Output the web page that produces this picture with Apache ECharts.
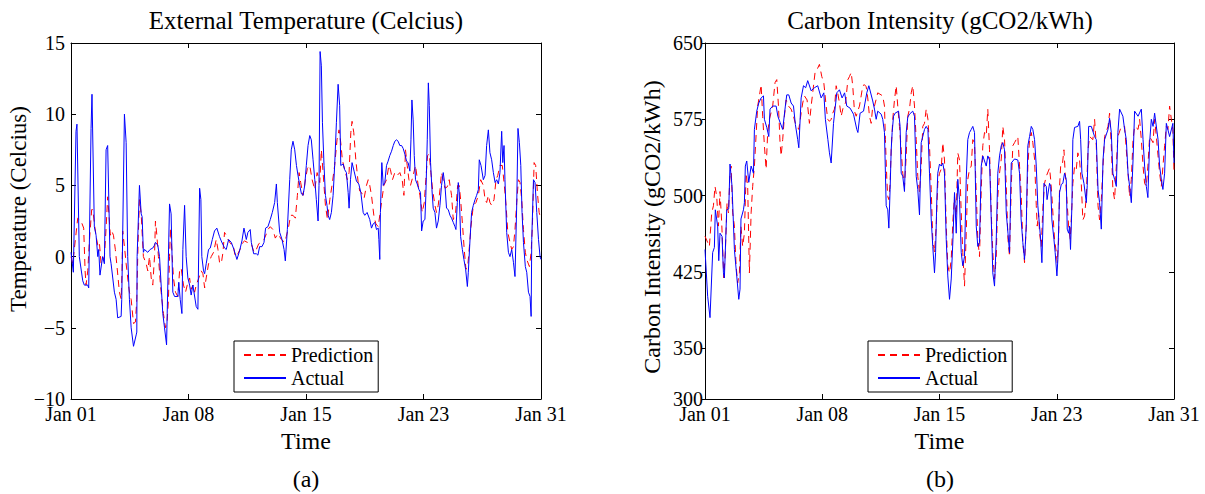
<!DOCTYPE html>
<html>
<head>
<meta charset="utf-8">
<script src="https://cdn.jsdelivr.net/npm/echarts@6/dist/echarts.min.js"></script>
<style>html,body{margin:0;padding:0;background:#fff}#c{width:1205px;height:494px}</style>
</head>
<body>
<div id="c"></div>
<script>
// ---------------- data ----------------
const xTickLabels = ['Jan 01', 'Jan 08', 'Jan 15', 'Jan 23', 'Jan 31'];
const tempTicks = [-10, -5, 0, 5, 10, 15];
const carbonTicks = [300, 350, 425, 500, 575, 650];
const seriesNames = ['Prediction', 'Actual'];
const panelTitles = ['External Temperature (Celcius)', 'Carbon Intensity (gCO2/kWh)'];
const yAxisNames = ['Temperature (Celcius)', 'Carbon Intensity (gCO2/kWh)'];
const xAxisName = 'Time';
const captions = ['(a)', '(b)'];

// [days since Jan 01, value]
const tempActual = [
[0,0.3],[0.15,-1.1],[0.32,8.8],[0.38,9.3],[0.53,0],[0.75,-1.7],[0.85,-2.0],[1.07,-2.0],[1.13,-2.2],[1.28,9.0],
[1.34,11.4],[1.49,2.1],[1.60,1.5],[1.71,0],[1.77,0.5],[1.85,-1.3],[2.02,0],[2.13,-0.5],[2.24,7.5],[2.34,7.8],
[2.49,0],[2.56,-0.5],[2.77,-2.5],[2.88,-3.0],[2.98,-4.3],[3.20,-4.2],[3.24,-3.0],[3.41,10.0],[3.52,8.0],[3.62,0],
[3.73,-3.0],[3.84,-5.0],[3.99,-6.3],[4.16,-5.5],[4.20,-5.3],[4.22,0],[4.37,5.0],[4.48,3.0],[4.54,2.8],[4.62,0.3],
[4.69,0.5],[4.90,0.3],[5.05,0.5],[5.22,0.6],[5.33,0.8],[5.39,1.0],[5.54,0.8],[5.65,0],[5.78,-2.5],[5.86,-4.0],
[5.97,-5.0],[6.10,-6.2],[6.14,-4.0],[6.29,3.7],[6.39,3.0],[6.50,-2.5],[6.61,-2.8],[6.82,-2.8],[6.88,-1.8],[6.97,-3.0],
[7.08,-4.0],[7.14,0.5],[7.25,3.6],[7.35,0],[7.46,-1.5],[7.57,-2.0],[7.67,-2.7],[7.78,-2.0],[7.99,-3.5],[8.10,-3.7],
[8.21,4.8],[8.29,4.0],[8.35,0],[8.46,-1.0],[8.53,-1.2],[8.63,-0.5],[8.78,0.5],[8.89,0.6],[9.02,1.2],[9.16,1.8],
[9.31,2.0],[9.48,1.4],[9.59,1.1],[9.80,0.6],[9.91,0.5],[10.06,1.2],[10.23,1.0],[10.40,0.5],[10.59,-0.2],[10.76,0.4],
[10.91,1.1],[11.04,2.0],[11.19,1.2],[11.29,1.7],[11.44,1.9],[11.51,1.0],[11.66,0.2],[11.83,0.2],[11.93,0.1],[12.04,0.7],
[12.19,0.7],[12.32,1.0],[12.42,2.0],[12.57,2.1],[12.72,2.6],[12.85,3.1],[13.00,3.8],[13.11,5.1],[13.17,3.8],[13.32,1.7],
[13.47,1.2],[13.60,0.5],[13.68,-0.3],[13.81,1.9],[13.96,5.4],[14.06,7.5],[14.17,8.1],[14.28,7.5],[14.39,6.4],[14.49,5.7],
[14.60,5.0],[14.71,4.4],[14.81,4.3],[14.92,5.0],[15.02,6.4],[15.13,7.8],[15.24,8.5],[15.34,8.2],[15.45,6.8],[15.56,5.4],
[15.66,4.0],[15.77,2.5],[15.83,5.0],[15.90,14.4],[15.98,13.4],[16.05,9.4],[16.15,6.4],[16.24,4.3],[16.34,3.6],[16.41,2.9],
[16.51,2.6],[16.62,3.1],[16.73,4.3],[16.83,6.4],[16.94,9.4],[17.05,12.1],[17.15,10.6],[17.22,6.4],[17.37,6.5],[17.47,6.1],
[17.58,5.9],[17.69,4.5],[17.75,3.4],[17.84,5.4],[17.94,6.6],[18.07,6.0],[18.22,5.3],[18.37,5.1],[18.50,4.5],[18.65,3.1],
[18.75,2.9],[18.90,3.1],[19.07,2.6],[19.18,2.0],[19.29,2.3],[19.39,2.4],[19.50,1.9],[19.61,2.0],[19.65,1.2],[19.71,-0.2],
[19.75,3.1],[19.84,6.6],[19.93,5.0],[20.03,5.2],[20.14,6.4],[20.24,6.7],[20.35,7.1],[20.46,7.4],[20.57,7.8],[20.67,8.1],
[20.78,8.2],[20.88,8.1],[20.99,7.8],[21.10,7.8],[21.20,7.6],[21.31,7.2],[21.42,6.7],[21.52,6.6],[21.63,6.0],[21.70,8.2],
[21.76,11.0],[21.84,9.6],[21.91,7.1],[21.99,5.4],[22.10,5.1],[22.21,4.7],[22.31,4.5],[22.38,1.8],[22.48,2.5],[22.59,2.6],
[22.65,4.3],[22.74,8.2],[22.81,12.2],[22.87,10.6],[22.95,6.6],[23.04,4.7],[23.12,3.4],[23.23,3.1],[23.33,2.0],[23.44,2.5],
[23.55,3.6],[23.65,5.0],[23.76,5.9],[23.87,5.0],[23.97,3.4],[24.08,3.3],[24.19,2.9],[24.29,2.7],[24.40,2.4],[24.51,2.1],
[24.57,1.9],[24.66,3.8],[24.72,5.2],[24.78,4.5],[24.87,1.4],[24.98,0.5],[25.08,-0.2],[25.19,-0.9],[25.30,-2.1],[25.36,-1.1],
[25.47,1.2],[25.57,3.1],[25.68,3.6],[25.79,4.0],[25.89,4.3],[26.00,4.7],[26.06,6.8],[26.17,6.4],[26.32,5.4],[26.43,5.7],
[26.53,7.8],[26.64,8.9],[26.74,7.3],[26.85,6.8],[26.96,5.9],[27.07,5.2],[27.17,5.4],[27.28,5.1],[27.38,5.9],[27.49,8.8],
[27.56,6.6],[27.64,7.8],[27.70,5.4],[27.81,1.7],[27.92,0.3],[28.02,0.0],[28.13,0.5],[28.24,-0.4],[28.34,-1.4],[28.45,3.6],
[28.53,9.0],[28.62,8.0],[28.71,6.4],[28.79,3.1],[28.88,1.0],[29.00,-0.7],[29.09,-1.1],[29.20,-2.5],[29.30,-2.8],[29.37,-4.2],
[29.41,1.2],[29.52,5.4],[29.62,5.2],[29.73,3.1],[29.84,1.2],[29.94,0.0],[30.00,-0.2]
];

const tempPred = [
[0,0],[0.11,-0.5],[0.43,2.7],[0.64,2.5],[0.81,2.0],[0.90,-1.0],[0.96,-2.0],[1.07,-1.0],[1.17,1.0],[1.32,3.3],
[1.39,3.3],[1.53,2.0],[1.64,1.2],[1.71,0.8],[1.81,1.0],[1.92,-0.5],[2.02,-0.3],[2.13,0],[2.24,2.0],[2.34,4.2],
[2.45,2.5],[2.51,1.5],[2.60,1.8],[2.71,1.5],[2.83,0.5],[2.92,-0.5],[3.09,-2.5],[3.20,-3.0],[3.26,-1.0],[3.30,1.8],
[3.43,0.5],[3.52,-0.5],[3.62,-1.5],[3.73,-2.5],[3.84,-3.0],[3.99,-4.7],[4.11,-4.6],[4.20,-3.0],[4.28,1.0],[4.37,4.0],
[4.48,3.0],[4.62,0],[4.80,-0.5],[4.90,-1.0],[5.01,0],[5.12,-1.5],[5.22,-2.0],[5.33,0],[5.39,2.5],[5.48,1.5],
[5.58,0],[5.71,-2.0],[5.80,-3.0],[5.90,-4.0],[6.03,-5.0],[6.14,-4.5],[6.22,-3.0],[6.29,0],[6.35,2.0],[6.46,0],
[6.54,-1.5],[6.67,-2.5],[6.82,-2.8],[6.93,-1.0],[7.03,-0.8],[7.18,-2.0],[7.31,-2.5],[7.42,-2.0],[7.57,-1.5],[7.67,-2.3],
[7.78,-2.0],[7.89,-2.5],[7.99,-2.0],[8.16,-1.5],[8.31,-1.0],[8.42,-1.2],[8.53,-2.2],[8.63,-1.5],[8.78,-0.5],[8.95,0],
[9.10,0.3],[9.27,1.2],[9.38,0.5],[9.48,-0.4],[9.59,-0.5],[9.70,0.3],[9.80,1.7],[9.91,1.5],[10.02,1.2],[10.19,0.9],
[10.34,0.9],[10.48,0.0],[10.65,0.2],[10.83,0.6],[10.98,1.0],[11.08,1.1],[11.25,1.0],[11.40,1.0],[11.51,0.9],[11.68,0.3],
[11.83,0.5],[11.98,0.9],[12.15,1.0],[12.32,1.2],[12.47,1.6],[12.57,1.9],[12.72,2.1],[12.89,1.9],[13.04,1.3],[13.21,1.6],
[13.43,1.2],[13.64,1.0],[13.74,1.4],[13.89,2.1],[14.02,2.9],[14.17,2.9],[14.32,2.7],[14.45,4.3],[14.56,5.9],[14.66,5.2],
[14.81,4.3],[14.96,5.4],[15.09,6.2],[15.24,6.4],[15.39,5.4],[15.56,4.7],[15.71,5.9],[15.88,5.2],[15.98,7.5],[16.09,5.9],
[16.24,3.6],[16.37,2.6],[16.52,4.0],[16.66,5.0],[16.83,6.4],[16.98,8.2],[17.11,8.9],[17.22,8.0],[17.32,6.8],[17.47,6.1],
[17.64,5.4],[17.75,5.9],[17.86,8.7],[17.94,9.5],[18.05,8.7],[18.18,6.8],[18.33,5.2],[18.43,4.6],[18.54,4.5],[18.71,4.1],
[18.86,5.0],[18.97,5.4],[19.07,5.0],[19.18,4.3],[19.33,2.9],[19.46,2.3],[19.61,2.1],[19.82,3.8],[19.97,5.0],[20.14,5.4],
[20.29,6.4],[20.39,6.1],[20.52,5.4],[20.67,5.9],[20.82,5.7],[20.99,5.9],[21.14,5.4],[21.25,4.3],[21.35,7.5],[21.46,6.4],
[21.57,5.4],[21.67,5.0],[21.84,5.7],[21.99,6.4],[22.16,5.0],[22.27,4.3],[22.42,3.1],[22.55,3.8],[22.65,5.4],[22.76,7.1],
[22.87,7.2],[22.97,5.9],[23.08,4.7],[23.23,3.6],[23.33,3.1],[23.44,3.6],[23.55,4.7],[23.65,5.9],[23.76,5.4],[23.87,4.8],
[24.02,4.9],[24.14,5.4],[24.29,4.3],[24.40,2.6],[24.55,3.1],[24.68,5.0],[24.78,5.0],[24.87,4.0],[25.00,2.1],[25.10,0.5],
[25.21,-0.9],[25.32,-0.7],[25.43,0.7],[25.53,2.1],[25.68,3.6],[25.85,3.8],[26.00,4.3],[26.15,5.4],[26.32,5.0],[26.43,4.0],
[26.53,3.8],[26.64,4.3],[26.74,3.8],[26.85,3.6],[27.00,4.0],[27.13,5.4],[27.24,5.7],[27.38,6.4],[27.53,6.4],[27.66,5.0],
[27.77,3.6],[27.88,1.7],[28.02,1.0],[28.13,0.5],[28.24,0.7],[28.34,1.9],[28.45,3.8],[28.56,5.4],[28.66,5.2],[28.77,4.0],
[28.88,1.9],[29.00,0.3],[29.09,-0.2],[29.26,-0.7],[29.37,0.3],[29.45,2.1],[29.56,6.6],[29.66,6.4],[29.77,4.5],[29.88,3.1],
[30.00,2.6]
];

const carbonActual = [
[0.00,447],[0.17,401],[0.32,380],[0.49,444],[0.60,449],[0.66,486],[0.81,470],[0.88,436],[0.96,463],[1.09,460],
[1.18,424],[1.24,419],[1.39,486],[1.52,487],[1.60,531],[1.73,509],[1.88,447],[2.03,421],[2.16,398],[2.24,408],
[2.30,477],[2.46,486],[2.52,493],[2.58,529],[2.67,534],[2.80,513],[2.95,529],[3.10,522],[3.16,565],[3.31,583],
[3.44,591],[3.59,596],[3.74,598],[3.80,575],[3.95,567],[4.08,558],[4.16,585],[4.33,588],[4.55,588],[4.66,578],
[4.80,572],[4.97,565],[5.14,588],[5.23,599],[5.36,599],[5.51,591],[5.66,588],[5.78,570],[5.93,555],[6.00,547],
[6.15,596],[6.30,608],[6.44,606],[6.57,613],[6.79,603],[7.00,606],[7.21,608],[7.43,596],[7.60,601],[7.70,575],
[7.86,555],[7.96,542],[8.07,532],[8.22,571],[8.43,601],[8.60,604],[8.77,596],[8.93,601],[9.07,588],[9.28,586],
[9.50,580],[9.71,565],[9.78,562],[9.92,581],[10.14,583],[10.35,601],[10.48,608],[10.73,593],[10.84,585],[10.95,575],
[11.05,583],[11.27,580],[11.37,575],[11.48,562],[11.54,522],[11.59,490],[11.69,486],[11.76,468],[11.84,506],[11.91,545],
[11.97,562],[12.06,578],[12.16,581],[12.38,583],[12.48,568],[12.55,522],[12.65,519],[12.76,504],[12.87,562],[12.97,577],
[13.08,580],[13.29,583],[13.40,578],[13.51,519],[13.61,506],[13.72,481],[13.83,552],[13.93,558],[14.04,565],[14.15,568],
[14.26,565],[14.36,522],[14.47,477],[14.57,450],[14.68,424],[14.75,444],[14.83,496],[14.89,522],[15.00,531],[15.11,529],
[15.21,532],[15.32,522],[15.43,457],[15.53,421],[15.64,398],[15.75,418],[15.86,457],[15.96,503],[16.07,463],[16.17,516],
[16.28,496],[16.39,444],[16.49,431],[16.60,440],[16.71,516],[16.81,555],[16.92,562],[17.03,565],[17.13,568],[17.24,562],
[17.35,470],[17.45,450],[17.56,454],[17.67,529],[17.77,539],[17.99,529],[18.09,539],[18.20,535],[18.31,477],[18.41,424],
[18.52,411],[18.63,457],[18.73,522],[18.84,539],[18.95,549],[19.05,552],[19.16,545],[19.27,483],[19.38,463],[19.48,444],
[19.59,532],[19.80,536],[20.01,535],[20.12,522],[20.22,477],[20.33,454],[20.44,437],[20.55,470],[20.65,549],[20.76,558],
[20.87,568],[20.97,565],[21.08,555],[21.19,529],[21.29,490],[21.40,470],[21.47,457],[21.55,434],[21.62,473],[21.68,512],
[21.83,509],[21.88,496],[22.04,512],[22.11,509],[22.19,476],[22.32,457],[22.40,444],[22.51,421],[22.57,437],[22.68,503],
[22.79,511],[22.89,512],[23.00,522],[23.11,516],[23.17,467],[23.26,463],[23.32,470],[23.38,447],[23.47,490],[23.53,555],
[23.64,567],[23.85,568],[23.96,573],[24.03,555],[24.11,522],[24.24,512],[24.39,493],[24.45,510],[24.54,568],[24.71,568],
[24.92,558],[25.03,555],[25.14,506],[25.24,493],[25.35,467],[25.46,535],[25.56,555],[25.78,565],[25.88,576],[25.99,562],
[26.09,522],[26.20,516],[26.31,509],[26.41,562],[26.52,585],[26.73,578],[26.84,565],[26.95,555],[27.06,522],[27.16,509],
[27.27,493],[27.38,535],[27.48,583],[27.70,578],[27.91,585],[28.02,555],[28.12,529],[28.23,509],[28.33,498],[28.44,552],
[28.55,575],[28.66,568],[28.76,581],[28.98,555],[29.08,529],[29.19,516],[29.29,506],[29.40,522],[29.51,571],[29.72,558],
[29.93,571],[30.00,532]
];

const carbonPred = [
[0,460],[0.28,450],[0.43,483],[0.54,490],[0.64,509],[0.75,499],[0.86,470],[0.96,504],[1.07,473],[1.20,419],
[1.30,444],[1.41,493],[1.50,483],[1.60,522],[1.67,529],[1.77,483],[1.88,470],[1.99,431],[2.09,414],[2.20,424],
[2.30,470],[2.41,450],[2.52,463],[2.63,522],[2.73,509],[2.84,424],[2.95,483],[3.05,509],[3.16,529],[3.27,560],
[3.37,588],[3.48,598],[3.59,609],[3.69,578],[3.80,549],[3.91,526],[4.01,562],[4.12,575],[4.33,588],[4.48,611],
[4.59,614],[4.70,588],[4.80,552],[4.87,539],[4.97,555],[5.08,578],[5.19,594],[5.34,588],[5.51,585],[5.66,578],
[5.78,571],[5.89,568],[6.00,565],[6.15,581],[6.25,591],[6.36,598],[6.53,594],[6.68,571],[6.79,588],[6.89,601],
[7.04,621],[7.17,624],[7.32,629],[7.47,617],[7.60,611],[7.75,588],[7.85,575],[7.96,573],[8.07,575],[8.17,581],
[8.28,585],[8.39,608],[8.49,601],[8.60,591],[8.71,578],[8.86,588],[8.99,591],[9.14,614],[9.24,617],[9.35,621],
[9.45,608],[9.56,583],[9.67,578],[9.77,583],[9.88,588],[9.99,598],[10.09,608],[10.20,609],[10.31,607],[10.41,596],
[10.52,578],[10.63,571],[10.73,588],[10.84,588],[11.05,601],[11.37,598],[11.48,588],[11.54,555],[11.63,516],[11.69,499],
[11.76,496],[11.84,512],[11.91,545],[12.01,575],[12.12,594],[12.23,608],[12.33,588],[12.44,568],[12.55,545],[12.65,522],
[12.76,509],[12.87,539],[12.97,578],[13.08,585],[13.19,601],[13.29,608],[13.40,588],[13.51,555],[13.61,519],[13.72,503],
[13.83,529],[13.93,568],[14.04,571],[14.15,585],[14.26,575],[14.36,549],[14.47,506],[14.57,457],[14.68,444],[14.79,470],
[14.89,512],[15.00,522],[15.11,526],[15.21,552],[15.32,535],[15.43,470],[15.53,431],[15.64,424],[15.75,437],[15.86,476],
[15.96,499],[16.07,480],[16.17,542],[16.28,535],[16.39,483],[16.49,444],[16.60,411],[16.71,463],[16.81,516],[16.92,526],
[17.03,529],[17.13,555],[17.24,552],[17.35,503],[17.45,457],[17.56,440],[17.67,506],[17.77,549],[17.88,562],[17.99,559],
[18.09,585],[18.20,545],[18.31,483],[18.41,444],[18.52,418],[18.63,440],[18.73,499],[18.84,522],[18.95,536],[19.05,568],
[19.16,555],[19.27,509],[19.38,457],[19.48,440],[19.59,509],[19.69,549],[19.80,552],[20.01,558],[20.12,529],[20.22,503],
[20.33,454],[20.44,434],[20.55,470],[20.65,529],[20.76,555],[20.87,562],[20.97,552],[21.08,536],[21.19,490],[21.25,470],
[21.34,483],[21.40,463],[21.51,450],[21.62,490],[21.72,512],[21.83,519],[22.04,527],[22.11,516],[22.19,499],[22.28,476],
[22.36,457],[22.47,444],[22.53,434],[22.62,457],[22.68,509],[22.75,529],[22.85,529],[22.96,545],[23.04,522],[23.15,496],
[23.26,470],[23.36,457],[23.45,483],[23.53,512],[23.64,529],[23.75,526],[23.85,542],[23.96,535],[24.07,512],[24.17,476],
[24.28,480],[24.39,499],[24.50,545],[24.60,558],[24.81,555],[24.92,575],[25.03,549],[25.14,490],[25.24,476],[25.35,496],
[25.46,529],[25.56,558],[25.78,568],[25.88,581],[25.99,549],[26.09,506],[26.20,496],[26.31,529],[26.41,558],[26.63,568],
[26.84,568],[26.95,545],[27.06,522],[27.16,499],[27.27,516],[27.38,555],[27.48,568],[27.70,565],[27.80,575],[27.91,555],
[28.02,529],[28.12,512],[28.23,509],[28.33,529],[28.44,558],[28.66,552],[28.76,575],[28.87,558],[28.98,539],[29.08,522],
[29.19,509],[29.40,549],[29.51,568],[29.61,565],[29.72,588],[29.83,575],[29.93,565],[30.00,522]
];

// ---------------- chart ----------------
const FONT = '"Liberation Serif", "Times New Roman", serif';
const BLACK = '#000';
const RED = '#ff0000';
const BLUE = '#0000ff';
const grids = [
  { left: 71, top: 43, width: 470, height: 356 },
  { left: 705, top: 43, width: 469, height: 356 }
];
const minus = v => (v < 0 ? '\u2212' + Math.abs(v) : String(v));
const lineAxis = { show: true, onZero: false, lineStyle: { color: BLACK, width: 1 } };

const xAxes = [];
const yAxes = [];
[0, 1].forEach(g => {
  xAxes.push({
    gridIndex: g, type: 'value', min: 0, max: 30, interval: 7.5, position: 'bottom',
    name: xAxisName, nameLocation: 'middle', nameGap: 20,
    nameTextStyle: { fontFamily: FONT, fontSize: 24, color: BLACK },
    axisLine: lineAxis,
    axisTick: { show: true, inside: true, length: 5, lineStyle: { color: BLACK } },
    axisLabel: { margin: 8, lineHeight: 14, fontFamily: FONT, fontSize: 20, color: BLACK,
      formatter: v => xTickLabels[Math.round(v / 7.5)] },
    splitLine: { show: false }
  });
  xAxes.push({
    gridIndex: g, type: 'value', min: 0, max: 30, interval: 7.5, position: 'top',
    axisLine: lineAxis,
    axisTick: { show: true, inside: true, length: 5, lineStyle: { color: BLACK } },
    axisLabel: { show: false }, splitLine: { show: false }
  });
});
// temperature panel
yAxes.push({
  gridIndex: 0, type: 'value', min: -10, max: 15, interval: 5, position: 'left',
  name: yAxisNames[0], nameLocation: 'middle', nameGap: 38, nameRotate: 90,
  nameTextStyle: { fontFamily: FONT, fontSize: 23, color: BLACK, padding: [0, 0, 0, 24] },
  axisLine: lineAxis,
  axisTick: { show: true, inside: true, length: 5, lineStyle: { color: BLACK } },
  axisLabel: { margin: 6, lineHeight: 14, fontFamily: FONT, fontSize: 20, color: BLACK, formatter: minus,
    customValues: tempTicks },
  splitLine: { show: false }
});
yAxes.push({
  gridIndex: 0, type: 'value', min: -10, max: 15, interval: 5, position: 'right',
  axisLine: lineAxis,
  axisTick: { show: true, inside: true, length: 5, lineStyle: { color: BLACK } },
  axisLabel: { show: false }, splitLine: { show: false }
});
// carbon panel
yAxes.push({
  gridIndex: 1, type: 'value', min: 300, max: 650, position: 'left',
  name: yAxisNames[1], nameLocation: 'middle', nameGap: 41, nameRotate: 90,
  nameTextStyle: { fontFamily: FONT, fontSize: 24, color: BLACK, padding: [0, 12, 0, 0] },
  axisLine: lineAxis,
  axisTick: { show: true, inside: false, length: 3, customValues: carbonTicks, lineStyle: { color: BLACK } },
  axisLabel: { margin: 2, lineHeight: 14, fontFamily: FONT, fontSize: 20, color: BLACK, customValues: carbonTicks },
  splitLine: { show: false }
});
yAxes.push({
  gridIndex: 1, type: 'value', min: 300, max: 650, position: 'right',
  axisLine: lineAxis,
  axisTick: { show: true, inside: true, length: 5, customValues: carbonTicks, lineStyle: { color: BLACK } },
  axisLabel: { show: false }, splitLine: { show: false }
});

function mkSeries(name, data, gi, color, dashed) {
  return {
    type: 'line', name: name, data: data,
    xAxisIndex: gi * 2, yAxisIndex: gi * 2,
    symbol: 'none', showSymbol: false, animation: false,
    color: color,
    lineStyle: { color: color, width: 1, type: dashed ? [7, 5] : 'solid' },
    itemStyle: { color: color },
    emphasis: { disabled: true }
  };
}

function mkLegend(left) {
  return {
    left: left, top: 341, orient: 'vertical',
    data: seriesNames.map(n => ({ name: n })),
    itemWidth: 42, itemHeight: 14, itemGap: 1,
    padding: [3, 5, 3, 9],
    backgroundColor: '#fff', borderColor: BLACK, borderWidth: 1, borderRadius: 0,
    selectedMode: false,
    itemStyle: { color: 'transparent', borderWidth: 0, opacity: 0 },
    textStyle: { fontFamily: FONT, fontSize: 20, color: BLACK, lineHeight: 22 }
  };
}

function txt(x, y, s, size) {
  return { type: 'text', x: x, y: y, silent: true,
    style: { text: s, fill: BLACK, font: size + 'px ' + FONT, align: 'center', verticalAlign: 'middle' } };
}

const option = {
  backgroundColor: '#fff',
  animation: false,
  grid: grids,
  xAxis: xAxes,
  yAxis: yAxes,
  legend: [mkLegend(234), mkLegend(868)],
  series: [
    mkSeries(seriesNames[0], tempPred, 0, RED, true),
    mkSeries(seriesNames[1], tempActual, 0, BLUE, false),
    mkSeries(seriesNames[0], carbonPred, 1, RED, true),
    mkSeries(seriesNames[1], carbonActual, 1, BLUE, false)
  ],
  graphic: [
    txt(306, 20.5, panelTitles[0], 25),
    txt(940, 20.5, panelTitles[1], 25),
    txt(306, 479, captions[0], 24),
    txt(940, 479, captions[1], 24)
  ]
};

const chart = echarts.init(document.getElementById('c'), null, { renderer: 'svg' });
chart.setOption(option);
</script>
</body>
</html>
